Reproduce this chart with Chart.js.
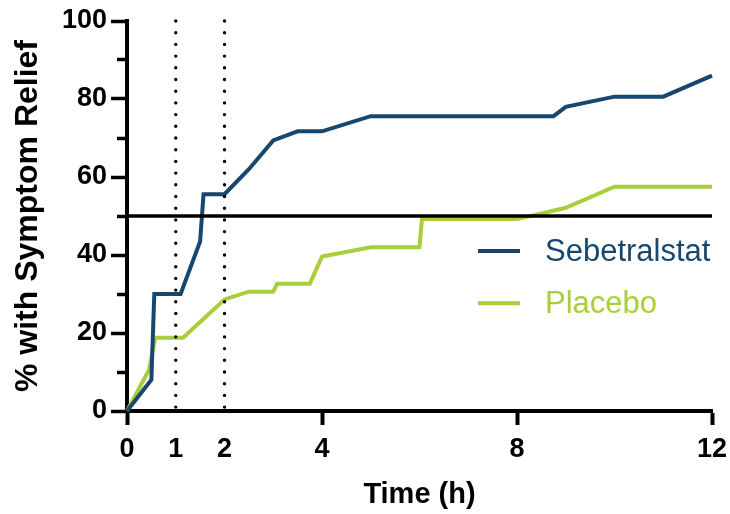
<!DOCTYPE html>
<html>
<head>
<meta charset="utf-8">
<script src="https://cdn.jsdelivr.net/npm/chart.js@4.4.1/dist/chart.umd.min.js"></script>
<style>
  html, body { margin: 0; padding: 0; background: #ffffff; }
  #wrap { width: 730px; height: 514px; position: relative; }
</style>
</head>
<body>
<div id="wrap"><canvas id="c" width="730" height="514"></canvas></div>
<script>
// ---- Data ----
const X_TICKS = [0, 1, 2, 4, 8, 12];
const X_TICK_MARKS = [0, 4, 8, 12];
const Y_MAJOR = [0, 20, 40, 60, 80, 100];
const Y_MINOR = [10, 30, 50, 70, 90];

const SEB_TIME  = [0, 0.5, 0.56, 1.1, 1.5, 1.57, 2, 2.5, 3, 3.5, 4, 5, 8.75, 9, 10, 11, 12];
const SEB_VALUE = [0, 8, 30, 30, 43.5, 55.6, 55.6, 62, 69.4, 71.7, 71.7, 75.6, 75.6, 78, 80.6, 80.6, 86];

const PBO_TIME  = [0, 0.45, 0.58, 1.15, 2, 2.5, 3, 3.08, 3.75, 4, 5, 6, 6.05, 8, 9, 10, 12];
const PBO_VALUE = [0, 10.5, 18.8, 18.8, 28.6, 30.6, 30.6, 32.6, 32.6, 39.6, 42, 42, 49.2, 49.2, 52.1, 57.5, 57.5];

const REF_TIMES = [1, 2];        // dotted vertical reference lines
const THRESHOLD = 50;            // horizontal reference line
const X_RANGE = [0, 12];
const Y_RANGE = [0, 100];

const SERIES_NAMES = ['Sebetralstat', 'Placebo'];
const BLUE = '#17476F';
const GREEN = '#A8CF3B';
const FONT = '"Liberation Sans", Arial, Helvetica, sans-serif';

const pts = (xs, ys) => xs.map((x, i) => ({ x: x, y: ys[i] }));

const datasets = [
  {
    label: 'threshold',
    data: [{ x: X_RANGE[0], y: THRESHOLD }, { x: X_RANGE[1], y: THRESHOLD }],
    borderColor: '#000000', borderWidth: 3.5, pointRadius: 0, clip: false
  },
  ...REF_TIMES.map(t => ({
    label: 'ref' + t,
    data: [{ x: t, y: Y_RANGE[1] }, { x: t, y: Y_RANGE[0] }],
    borderColor: '#000000', borderWidth: 3.4, borderDash: [0, 11.7],
    borderCapStyle: 'round', pointRadius: 0, clip: false
  })),
  {
    label: SERIES_NAMES[0],
    data: pts(SEB_TIME, SEB_VALUE),
    borderColor: BLUE, borderWidth: 4, pointRadius: 0, tension: 0, clip: false
  },
  {
    label: SERIES_NAMES[1],
    data: pts(PBO_TIME, PBO_VALUE),
    borderColor: GREEN, borderWidth: 4, pointRadius: 0, tension: 0, clip: false
  }
];

const legendPlugin = {
  id: 'customLegend',
  afterDatasetsDraw(chart) {
    const ctx = chart.ctx;
    const area = chart.chartArea;
    const yScale = chart.scales.y;
    const items = chart.data.datasets.filter(d => SERIES_NAMES.includes(d.label));
    const x0 = area.left + 351;
    const rowY = [yScale.getPixelForValue(41), yScale.getPixelForValue(27.6)];
    ctx.save();
    items.forEach((d, i) => {
      const y = rowY[i];
      ctx.strokeStyle = d.borderColor;
      ctx.lineWidth = 4;
      ctx.beginPath();
      ctx.moveTo(x0, y);
      ctx.lineTo(x0 + 42, y);
      ctx.stroke();
      ctx.fillStyle = d.borderColor;
      ctx.font = '31px ' + FONT;
      ctx.textBaseline = 'middle';
      ctx.textAlign = 'left';
      ctx.fillText(d.label, x0 + 67, y + 1);
    });
    ctx.restore();
  }
};

new Chart(document.getElementById('c'), {
  type: 'line',
  data: { datasets: datasets },
  options: {
    responsive: false,
    animation: false,
    devicePixelRatio: 1,
    layout: { padding: { top: 21, right: 18, bottom: 2, left: 0 } },
    plugins: { legend: { display: false }, tooltip: { enabled: false } },
    scales: {
      x: {
        type: 'linear',
        min: X_RANGE[0], max: X_RANGE[1],
        afterBuildTicks: (s) => { s.ticks = X_TICKS.map(v => ({ value: v })); },
        afterFit: (s) => { s.height = 101; s.paddingLeft = 0; s.paddingRight = 0; },
        border: { display: true, color: '#000000', width: 4 },
        grid: {
          display: true, drawOnChartArea: false, drawTicks: true,
          tickLength: 14, tickWidth: 4,
          tickColor: (c) => (c.tick && X_TICK_MARKS.includes(c.tick.value)) ? '#000000' : 'rgba(0,0,0,0)'
        },
        ticks: {
          autoSkip: false, maxRotation: 0, padding: 8, color: '#000000',
          font: { family: FONT, size: 27, weight: 'bold' },
          callback: (v) => X_TICKS.includes(v) ? String(v) : ''
        },
        title: {
          display: true, text: 'Time (h)', color: '#000000',
          font: { family: FONT, size: 29, weight: 'bold' },
          padding: { top: 0, bottom: 0 }
        }
      },
      y: {
        type: 'linear',
        min: Y_RANGE[0], max: Y_RANGE[1],
        afterBuildTicks: (s) => {
          s.ticks = Y_MAJOR.concat(Y_MINOR).sort((a, b) => a - b).map(v => ({ value: v }));
        },
        afterFit: (s) => { s.width = 127; s.paddingTop = 0; s.paddingBottom = 0; },
        border: { display: true, color: '#000000', width: 4 },
        grid: {
          display: true, drawOnChartArea: false, drawTicks: true,
          tickLength: 16, tickWidth: 3.5, tickColor: '#000000',
          tickBorderDash: (c) => (c.tick && Y_MINOR.includes(c.tick.value)) ? [0, 6, 9, 100] : []
        },
        ticks: {
          autoSkip: false, padding: 4, color: '#000000',
          font: { family: FONT, size: 27, weight: 'bold' },
          callback: (v) => Y_MAJOR.includes(v) ? String(v) : ''
        },
        title: {
          display: true, text: '% with Symptom Relief', color: '#000000',
          font: { family: FONT, size: 32, weight: 'bold' },
          padding: { top: 9, bottom: 0 }
        }
      }
    }
  },
  plugins: [legendPlugin]
});
</script>
</body>
</html>
